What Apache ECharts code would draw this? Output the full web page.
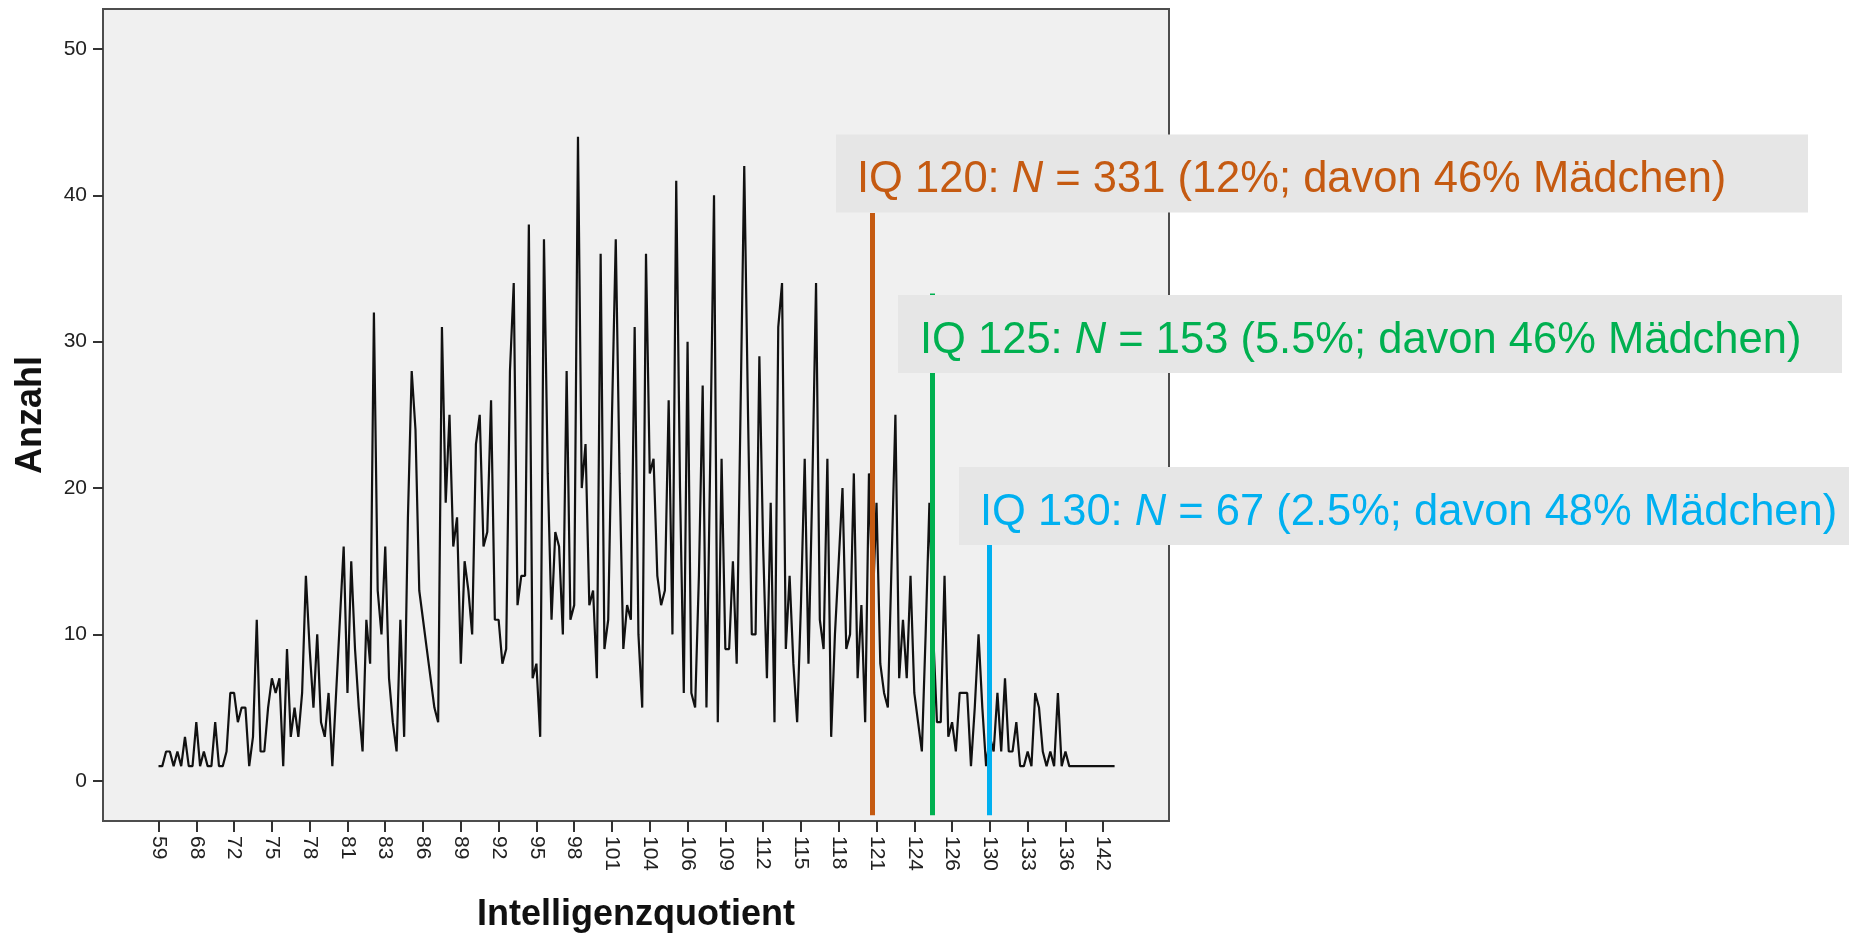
<!DOCTYPE html>
<html><head><meta charset="utf-8">
<script src="https://cdn.jsdelivr.net/npm/echarts@6/dist/echarts.min.js"></script>
<style>html,body{margin:0;padding:0;background:#fff}#c{width:1849px;height:934px}</style>
</head><body><div id="c"></div>
<script>
// Anzahl per IQ category (category index 0..253)
const counts = [
  1,1,2,2,1,2,1,3,1,1,
  4,1,2,1,1,4,1,1,2,6,
  6,4,5,5,1,3,11,2,2,5,
  7,6,7,1,9,3,5,3,6,14,
  9,5,10,4,3,6,1,6,11,16,
  6,15,9,5,2,11,8,32,13,10,
  16,7,4,2,11,3,18,28,24,13,
  11,9,7,5,4,31,19,25,16,18,
  8,15,13,10,23,25,16,17,26,11,
  11,8,9,28,34,12,14,14,38,7,
  8,3,37,21,11,17,16,10,28,11,
  12,44,20,23,12,13,7,36,9,11,
  25,37,21,9,12,11,31,10,5,36,
  21,22,14,12,13,26,10,41,20,6,
  30,6,5,14,27,5,22,40,4,22,
  9,9,15,8,25,42,25,10,10,29,
  16,7,19,4,31,34,9,14,8,4,
  12,22,8,20,34,11,9,22,3,10,
  15,20,9,10,21,7,12,4,21,12,
  19,8,6,5,15,25,7,11,7,14,
  6,4,2,10,19,10,4,4,14,3,
  4,2,6,6,6,1,5,10,5,1,
  3,2,6,2,7,2,2,4,1,1,
  2,1,6,5,2,1,2,1,6,1,
  2,1,1,1,1,1,1,1,1,1,
  1,1,1,1
];
// x tick labels: one every 10 categories
const tickLabels = ['59','68','72','75','78','81','83','86','89','92','95','98','101','104','106','109','112','115','118','121','124','126','130','133','136','142'];
const tickEvery = 10;
const yTicks = [0,10,20,30,40,50];

// threshold markers (position on the category index scale, top of line in Anzahl units)
const markerIQ    = ['120','125','130'];
const markerPos   = [188.9, 204.7, 219.8];
const markerTop   = [38.8, 33.3, 16.1];
const markerN     = ['331','153','67'];
const markerPct   = ['12%','5.5%','2.5%'];
const markerGirls = ['46%','46%','48%'];
const markerColor = ['#C55A11','#00B050','#00B0F0'];

const FONT = '"Liberation Sans", Arial, Helvetica, sans-serif';
const chart = echarts.init(document.getElementById('c'), null, {renderer:'canvas'});
const seriesData = counts.map((v,i)=>[i,v]);
const tickIdx = tickLabels.map((_,k)=>k*tickEvery);

// annotation box layout (pixels)
const boxX = [836, 898, 959], boxY = [134.5, 295, 467], boxW = [972, 944, 890], boxH = 78;
const txtX = [857, 920, 980], txtY = [180.3, 340.8, 512.8];
const annoFont = 43.5;

const graphics = [];
markerIQ.forEach((iq,k)=>{
  const c = markerColor[k];
  graphics.push({type:'rect', z:100, shape:{x:boxX[k], y:boxY[k], width:boxW[k], height:boxH}, style:{fill:'#E6E6E6'}});
  graphics.push({type:'text', z:101, x:txtX[k], y:txtY[k], style:{
    text:'{n|IQ '+iq+': }{i|N}{n| = '+markerN[k]+' ('+markerPct[k]+'; davon '+markerGirls[k]+' Mädchen)}',
    rich:{
      n:{fontSize:annoFont, fontFamily:FONT, fill:c},
      i:{fontSize:annoFont, fontFamily:FONT, fontStyle:'italic', fill:c}
    },
    fill:c, fontSize:annoFont, fontFamily:FONT, align:'left', verticalAlign:'middle'
  }});
});

const option = {
  animation:false,
  backgroundColor:'#ffffff',
  grid:{left:103, right:680, top:9, bottom:113, containLabel:false, outerBoundsMode:'none',
        show:true, backgroundColor:'#F0F0F0', borderColor:'#4d4d4d', borderWidth:2},
  xAxis:{
    type:'value', min:-14.69, max:267.4,
    axisLine:{show:false, onZero:false}, splitLine:{show:false},
    axisTick:{show:true, customValues:tickIdx, length:11, lineStyle:{color:'#333', width:2}},
    axisLabel:{customValues:tickIdx, rotate:-90, margin:15, fontSize:21, color:'#222', fontFamily:FONT,
      formatter:(v)=>tickLabels[Math.round(v/tickEvery)]},
    name:'Intelligenzquotient', nameLocation:'middle', nameGap:76,
    nameTextStyle:{fontSize:36, fontWeight:'bold', color:'#111', fontFamily:FONT}
  },
  yAxis:{
    type:'value', min:-2.75, max:52.73,
    axisLine:{show:false, onZero:false}, splitLine:{show:false},
    axisTick:{show:true, customValues:yTicks, length:10, lineStyle:{color:'#333', width:2}},
    axisLabel:{customValues:yTicks, margin:16, fontSize:21, color:'#222', fontFamily:FONT},
    name:'Anzahl', nameLocation:'middle', nameGap:54,
    nameTextStyle:{fontSize:36, fontWeight:'bold', color:'#111', fontFamily:FONT}
  },
  series:[{
    type:'line', data:seriesData, showSymbol:false, symbol:'none',
    lineStyle:{color:'#111', width:2.2}, z:2,
    markLine:{
      silent:true, symbol:['none','none'], label:{show:false},
      data: markerPos.map((p,k)=>[
        {coord:[p,-2.35], lineStyle:{color:markerColor[k], width:5, type:'solid'}},
        {coord:[p,markerTop[k]]}
      ])
    }
  }],
  graphic: graphics
};
chart.setOption(option);
</script>
</body></html>
